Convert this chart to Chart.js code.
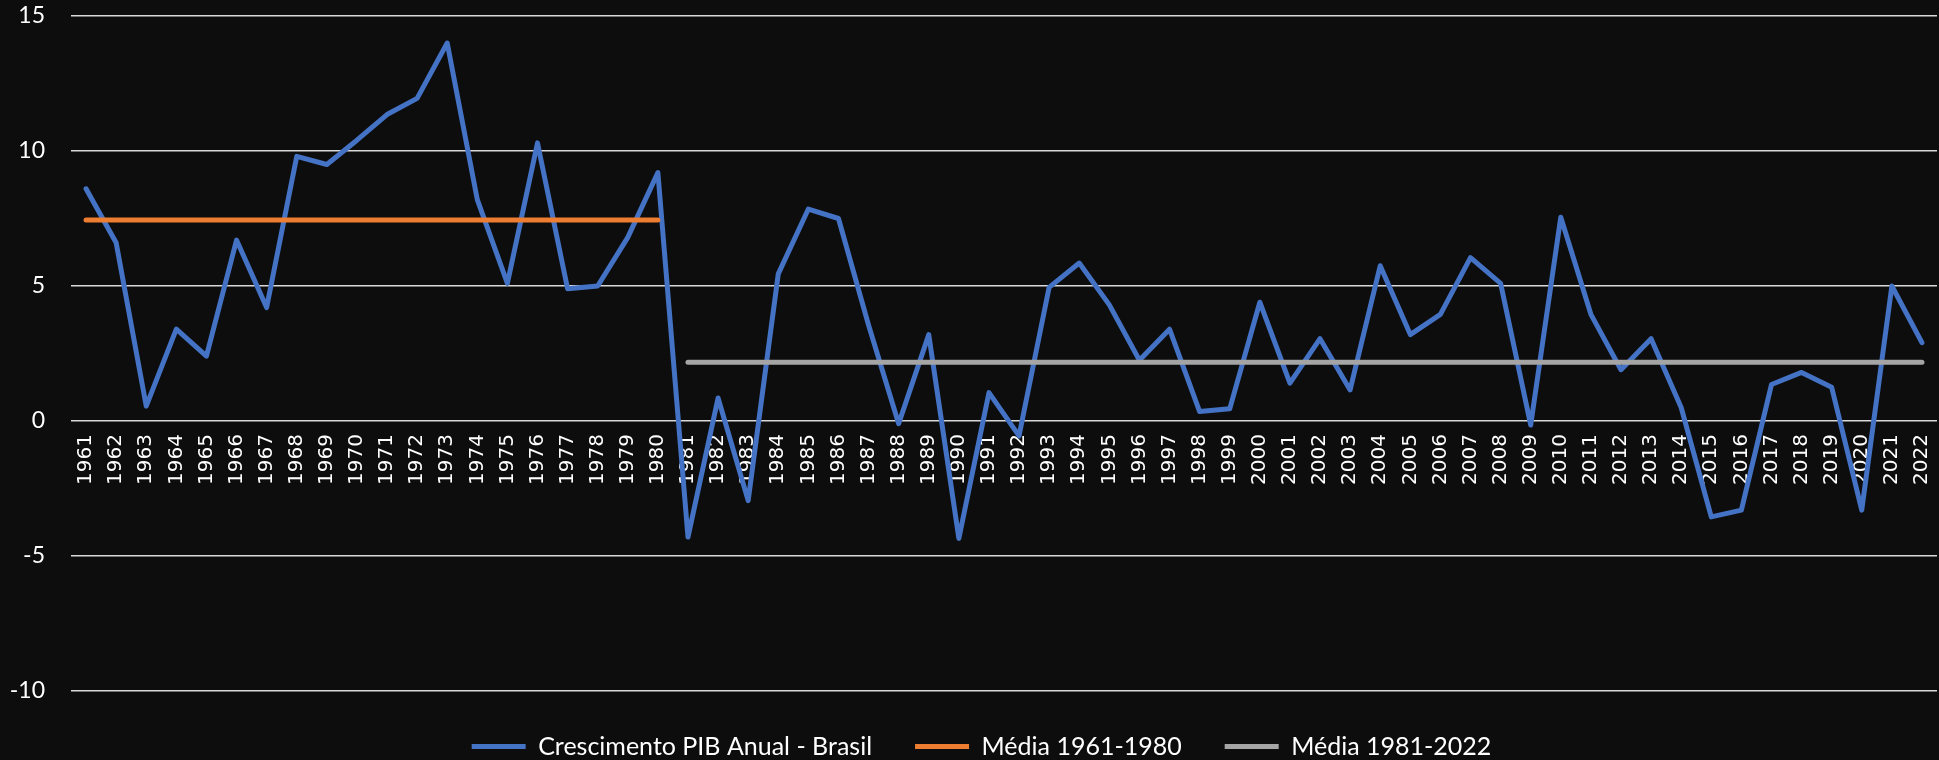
<!DOCTYPE html>
<html>
<head>
<meta charset="utf-8">
<script src="https://cdn.jsdelivr.net/npm/chart.js@4/dist/chart.umd.min.js"></script>
<style>
  html, body { margin: 0; padding: 0; background: #0d0d0d; }
  canvas { display: block; }
</style>
</head>
<body>
<canvas id="pibChart" width="1939" height="760"></canvas>
<script>
// anos e crescimento anual do PIB (%)
const anos = ['1961', '1962', '1963', '1964', '1965', '1966', '1967', '1968', '1969', '1970',
    '1971', '1972', '1973', '1974', '1975', '1976', '1977', '1978', '1979', '1980',
    '1981', '1982', '1983', '1984', '1985', '1986', '1987', '1988', '1989', '1990',
    '1991', '1992', '1993', '1994', '1995', '1996', '1997', '1998', '1999', '2000',
    '2001', '2002', '2003', '2004', '2005', '2006', '2007', '2008', '2009', '2010',
    '2011', '2012', '2013', '2014', '2015', '2016', '2017', '2018', '2019', '2020',
    '2021', '2022'];
const crescimentoPib = [8.6, 6.6, 0.55, 3.4, 2.4, 6.7, 4.2, 9.8, 9.5, 10.4,
    11.35, 11.95, 14.0, 8.2, 5.1, 10.3, 4.9, 5.0, 6.8, 9.2,
    -4.3, 0.85, -2.95, 5.45, 7.85, 7.5, 3.55, -0.1, 3.2, -4.35,
    1.05, -0.55, 4.95, 5.85, 4.3, 2.25, 3.4, 0.35, 0.45, 4.4,
    1.4, 3.05, 1.15, 5.75, 3.2, 3.95, 6.05, 5.1, -0.15, 7.55,
    3.95, 1.9, 3.05, 0.5, -3.55, -3.3, 1.35, 1.8, 1.25, -3.3,
    5.0, 2.9];

// médias por período (início e fim de cada linha)
const periodo1 = ['1961', '1980'];
const media1 = 7.44;
const periodo2 = ['1981', '2022'];
const media2 = 2.18;

const yTicks = [-10, -5, 0, 5, 10, 15];

const ctx = document.getElementById('pibChart');

new Chart(ctx, {
    type: 'line',
    data: {
        labels: anos,
        datasets: [
            {
                label: 'Crescimento PIB Anual - Brasil',
                data: crescimentoPib,
                borderColor: '#4472c4',
                backgroundColor: '#4472c4',
                borderWidth: 5,
                borderCapStyle: 'round',
                borderJoinStyle: 'round',
                pointRadius: 0,
                order: 2
            },
            {
                label: 'Média 1961-1980',
                data: periodo1.map(a => ({ x: a, y: media1 })),
                borderColor: '#ed7d31',
                backgroundColor: '#ed7d31',
                borderWidth: 5,
                borderCapStyle: 'round',
                pointRadius: 0,
                order: 1
            },
            {
                label: 'Média 1981-2022',
                data: periodo2.map(a => ({ x: a, y: media2 })),
                borderColor: '#a5a5a5',
                backgroundColor: '#a5a5a5',
                borderWidth: 5,
                borderCapStyle: 'round',
                pointRadius: 0,
                order: 1
            }
        ]
    },
    options: {
        responsive: false,
        animation: false,
        layout: {
            // direita negativa: centraliza a legenda como no original
            padding: { left: 6, right: -18, top: 16, bottom: 0 }
        },
        scales: {
            x: {
                position: { y: 0 },
                offset: true,
                // a área do gráfico termina 2px antes da borda direita
                afterFit: (scale) => { scale.paddingLeft = 0; scale.paddingRight = 2; },
                grid: { display: false, drawTicks: false },
                border: { display: false },
                ticks: {
                    color: '#ffffff',
                    font: { family: 'DejaVu Sans', size: 20 },
                    minRotation: 90,
                    maxRotation: 90,
                    autoSkip: false,
                    padding: 13
                }
            },
            y: {
                min: yTicks[0],
                max: yTicks[yTicks.length - 1],
                afterFit: (scale) => { scale.width = 65; },
                grid: {
                    color: '#d9d9d9',
                    lineWidth: 1.5,
                    drawTicks: true,
                    tickLength: 26,
                    tickColor: 'rgba(0,0,0,0)'
                },
                border: { display: false },
                ticks: {
                    stepSize: 5,
                    color: '#ffffff',
                    font: { family: 'Lato', size: 23 },
                    padding: 0
                }
            }
        },
        plugins: {
            tooltip: { enabled: false },
            legend: {
                position: 'bottom',
                maxHeight: 69,
                labels: {
                    color: '#ffffff',
                    font: { family: 'Lato', size: 25 },
                    usePointStyle: true,
                    pointStyle: 'line',
                    pointStyleWidth: 54,
                    padding: 43,
                    sort: (a, b) => a.datasetIndex - b.datasetIndex
                }
            }
        }
    }
});
</script>
</body>
</html>
